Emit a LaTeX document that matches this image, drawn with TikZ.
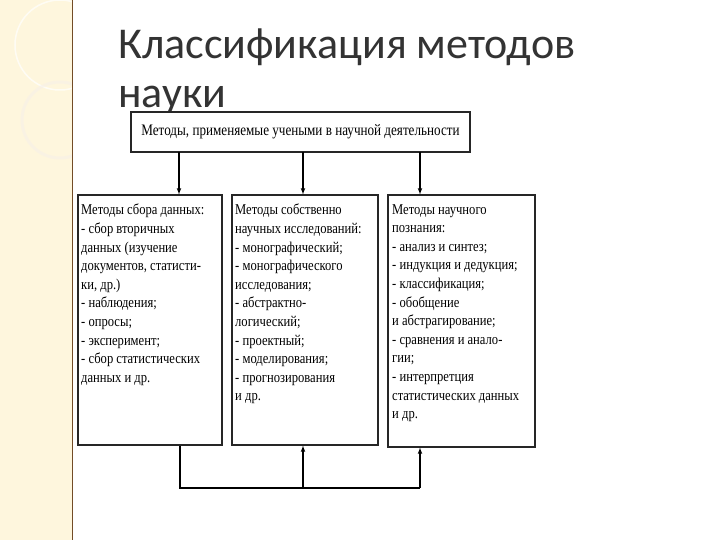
\documentclass[tikz,border=0pt]{standalone}
\usepackage{fontspec}
\setmainfont{Liberation Serif}
\newfontfamily\titlefont{Carlito}
\begin{document}
\begin{tikzpicture}[x=1pt,y=-1pt,
  box/.style={draw=black!85,line width=1.2pt,fill=white,inner sep=0pt},
  txt/.style={anchor=north west,align=left,inner sep=0pt,font=\fontsize{15}{18.6}\selectfont\addfontfeature{FakeStretch=0.84}},
  conn/.style={line width=1.1pt,-latex}]
\fill[white] (0,0) rectangle (720,540);
\useasboundingbox (0,0) rectangle (720,540);
\fill[yellow!50!orange!12!white] (0,0) rectangle (72,540);
\begin{scope}
\clip (0,0) rectangle (72,540);
\draw[white,line width=1.5pt,opacity=.7] (60,45) circle (45);
\draw[brown!12,line width=3pt,opacity=.6] (60,120) circle (38);
\end{scope}
\draw[brown!60!black,line width=1pt] (72,0) -- (72,540);
\node[anchor=west,inner sep=0pt,font=\titlefont\fontsize{44}{48}\selectfont,text=black!80] (t1) at (118,47) {Классификация методов};
\node[anchor=west,inner sep=0pt,font=\titlefont\fontsize{44}{48}\selectfont,text=black!80] (t2) at (118,100) {науки};
\node[box,minimum width=339,minimum height=40] (top) at (300.5,132) {};
\node[font=\fontsize{16}{18}\selectfont\addfontfeature{FakeStretch=0.82}] (topt) at (top) {Методы, применяемые учеными в научной деятельности};
\node[box,minimum width=144,minimum height=250] (L) at (150,320) {};
\node[box,minimum width=146,minimum height=250] (M) at (305,320) {};
\node[box,minimum width=147,minimum height=252] (R) at (461.5,321) {};
\node[txt] (Lt) at (81,204) {Методы сбора данных:\\ - сбор вторичных\\ данных (изучение\\ документов, статисти-\\ ки, др.)\\ - наблюдения;\\ - опросы;\\ - эксперимент;\\ - сбор статистических\\ данных и др.};
\node[txt] (Mt) at (235,204) {Методы собственно\\ научных исследований:\\ - монографический;\\ - монографического\\ исследования;\\ - абстрактно-\\ логический;\\ - проектный;\\ - моделирования;\\ - прогнозирования\\ и др.};
\node[txt] (Rt) at (392,204) {Методы научного\\ познания:\\ - анализ и синтез;\\ - индукция и дедукция;\\ - классификация;\\ - обобщение\\ и абстрагирование;\\ - сравнения и анало-\\ гии;\\ - интерпретция\\ статистических данных\\ и др.};
\draw[conn] (179,152) coordinate (a1) -- (a1 |- L.north);
\draw[conn] (303,152) coordinate (a2) -- (a2 |- M.north);
\draw[conn] (420,152) coordinate (a3) -- (a3 |- R.north);
\coordinate (b1) at (180,488);
\coordinate (b2) at (303,488);
\coordinate (b3) at (420,488);
\draw[line width=1.1pt] (b1 |- L.south) -- (b1) -- (b3);
\draw[conn] (b2) -- (b2 |- M.south);
\draw[conn] (b3) -- (b3 |- R.south);
\end{tikzpicture}
\end{document}
